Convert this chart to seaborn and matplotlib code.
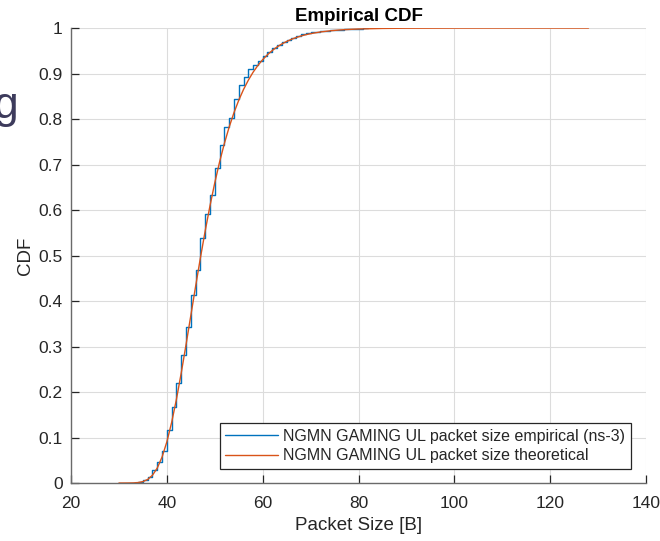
import matplotlib
matplotlib.use("Agg")
import matplotlib.pyplot as plt
import seaborn as sns
import pandas as pd

# Empirical CDF of uplink packet sizes (ns-3 trace), one step per byte value
emp_size = list(range(34, 83))
emp_cdf = [0.002, 0.006, 0.013, 0.029, 0.047, 0.071, 0.116, 0.168, 0.220, 0.281,
           0.342, 0.413, 0.468, 0.538, 0.591, 0.633, 0.692, 0.743, 0.783, 0.802,
           0.843, 0.874, 0.892, 0.909, 0.918, 0.928, 0.938, 0.947, 0.956, 0.963,
           0.969, 0.974, 0.979, 0.983, 0.987, 0.990, 0.991, 0.992, 0.993, 0.994,
           0.995, 0.996, 0.9965, 0.997, 0.9975, 0.998, 0.9985, 0.999, 1.0]

# Theoretical CDF of the NGMN gaming UL packet size model
theo_size = list(range(30, 71)) + [72, 74, 76, 78, 80, 85, 90, 100, 110, 128]
theo_cdf = [0.0, 0.0, 0.0001, 0.0003, 0.0010, 0.0031, 0.0078, 0.0171, 0.0329, 0.0570,
            0.0904, 0.1331, 0.1840, 0.2417, 0.3036, 0.3679, 0.4321, 0.4946, 0.5539, 0.6091,
            0.6597, 0.7054, 0.7461, 0.7822, 0.8137, 0.8411, 0.8649, 0.8853, 0.9029, 0.9178,
            0.9305, 0.9414, 0.9506, 0.9584, 0.9650, 0.9705, 0.9752, 0.9791, 0.9825, 0.9853,
            0.9876, 0.9913, 0.9938, 0.9957, 0.9969, 0.9979, 0.9991, 0.9996, 0.9999, 1.0, 1.0]

x_ticks = [20, 40, 60, 80, 100, 120, 140]
y_ticks = [0, 0.1, 0.2, 0.3, 0.4, 0.5, 0.6, 0.7, 0.8, 0.9, 1]
y_ticklabels = ["0", "0.1", "0.2", "0.3", "0.4", "0.5", "0.6", "0.7", "0.8", "0.9", "1"]

label_emp = "NGMN GAMING UL packet size empirical (ns-3)"
label_theo = "NGMN GAMING UL packet size theoretical"

sns.set_theme(style="whitegrid")
plt.rcParams["font.family"] = ["Liberation Sans", "DejaVu Sans"]

emp_df = pd.DataFrame({"size": emp_size, "cdf": emp_cdf})
theo_df = pd.DataFrame({"size": theo_size, "cdf": theo_cdf})

fig = plt.figure(figsize=(6.6, 5.41), dpi=100)
ax = fig.add_axes([0.1076, 0.1072, 0.8712, 0.8410])

sns.lineplot(data=emp_df, x="size", y="cdf", ax=ax, color="#0072BD", lw=1.0,
             drawstyle="steps-post", label=label_emp, estimator=None, sort=False)
sns.lineplot(data=theo_df, x="size", y="cdf", ax=ax, color="#D95319", lw=1.0,
             label=label_theo, estimator=None, sort=False)

ax.set_xlim(20, 140)
ax.set_ylim(0, 1)
ax.set_xticks(x_ticks)
ax.set_xticklabels([str(v) for v in x_ticks])
ax.set_yticks(y_ticks)
ax.set_yticklabels(y_ticklabels)

ax.set_facecolor("white")
ax.grid(True, color="#dcdcdc", lw=0.8)
for side in ("top", "right"):
    ax.spines[side].set_visible(False)
for side in ("left", "bottom"):
    ax.spines[side].set_visible(True)
    ax.spines[side].set_color("#6a6a6a")
    ax.spines[side].set_linewidth(1.0)

ax.tick_params(axis="both", direction="in", length=6, width=0.9, color="#262626",
               labelsize=12.5, labelcolor="#262626",
               left=True, bottom=True, top=False, right=False)
ax.tick_params(axis="y", pad=6)
ax.tick_params(axis="x", pad=9)

ax.set_xlabel("Packet Size [B]", fontsize=13.5, color="#262626", labelpad=5)
ax.set_ylabel("CDF", fontsize=13.5, color="#262626", labelpad=3)
ax.set_title("Empirical CDF", fontsize=13.5, fontweight="bold", color="black", pad=5)

leg = ax.legend(loc="lower right", bbox_to_anchor=(0.974, 0.031), fontsize=11.5,
                frameon=True, fancybox=False, handlelength=3.3, handletextpad=0.35,
                borderpad=0.35, labelspacing=0.3, borderaxespad=0)
leg.get_frame().set_edgecolor("#262626")
leg.get_frame().set_linewidth(0.9)
leg.get_frame().set_alpha(1.0)
for t in leg.get_texts():
    t.set_color("#262626")

# partial slide heading letter at the left edge
fig.text(0.027, 0.781, "g", fontsize=32, color="#3d3b5c", ha="right", va="baseline")

fig.savefig("out.png", dpi=100)
